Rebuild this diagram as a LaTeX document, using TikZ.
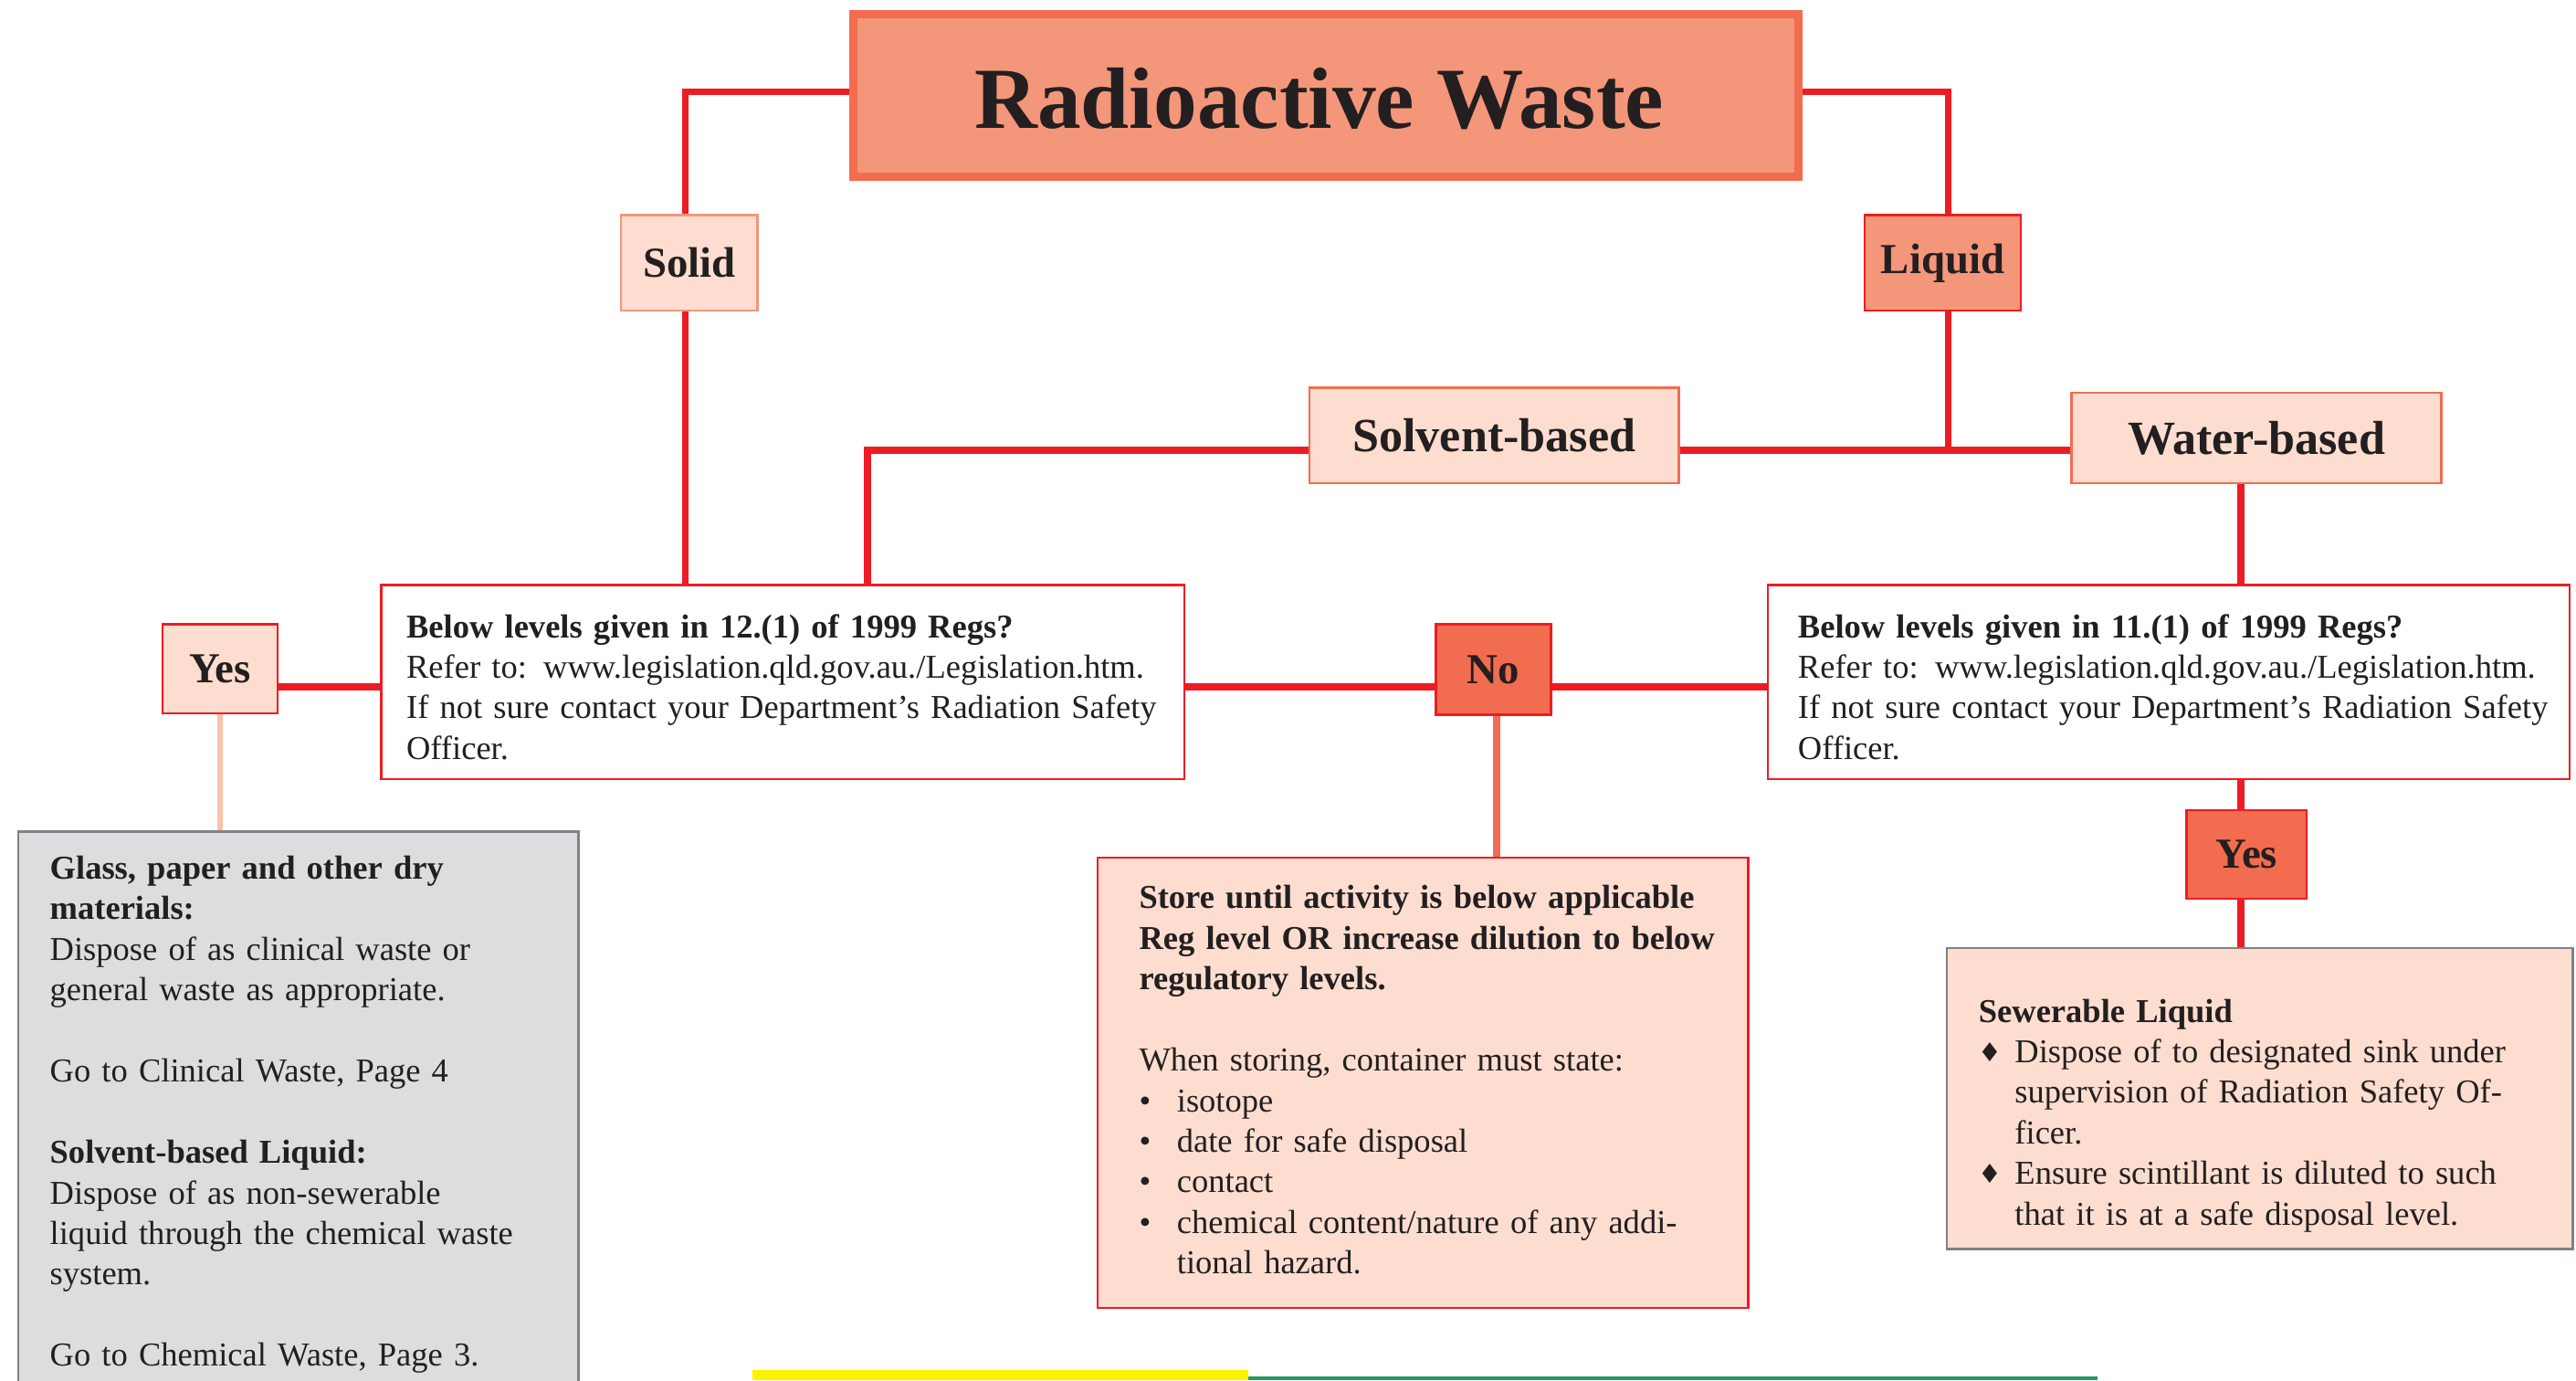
\documentclass[tikz,border=0pt]{standalone}
\usepackage{fontspec}
\setmainfont{Liberation Serif}
\newfontfamily\dvs{DejaVu Sans}
\definecolor{linered}{HTML}{ED1C24}
\definecolor{salmon}{HTML}{F4967A}
\definecolor{orangeA}{HTML}{F26C4F}
\definecolor{peach}{HTML}{FCDDD0}
\definecolor{greyfill}{HTML}{DCDDDE}
\definecolor{greyline}{HTML}{808285}
\definecolor{peachline}{HTML}{FBC1A9}
\definecolor{txt}{HTML}{231F20}
\definecolor{yellowbar}{HTML}{FFF200}
\definecolor{greenbar}{HTML}{1E9C5B}
\tikzset{
  conn/.style={draw=linered, line width=2pt},
  bx/.style={inner sep=0pt, line width=0.7pt, text=txt},
  lbl/.style={bx, font=\fontsize{13}{15}\selectfont\bfseries},
  lblb/.style={bx, font=\fontsize{14.5}{17}\selectfont\bfseries},
  body/.style={anchor=base west, inner sep=0pt, align=left, text=txt,
    font=\fontsize{10.15}{12.35}\selectfont},
}
\newcommand{\bul}{\makebox[11.5pt][l]{•}}
\newcommand{\dia}{\makebox[11pt][l]{\raisebox{0.3pt}{\dvs\fontsize{8}{8}\selectfont ♦}}}
\begin{document}
\begin{tikzpicture}[x=0.5pt,y=-0.5pt]
\clip (0,0) rectangle (1568,840);
\fill[white] (0,0) rectangle (1568,840);
% title
\node[bx, draw=orangeA, line width=2.5pt, fill=salmon, minimum width=287.5pt, minimum height=49.5pt] (title) at (807,58) {};
\node[inner sep=0pt, text=txt, font=\fontsize{26.5}{30}\selectfont\bfseries] (titletext) at (803,60) {Radioactive Waste};
% labels
\node[lbl, draw=salmon, fill=peach, minimum width=41.5pt, minimum height=29pt] (solid) at (419.5,160) {Solid};
\node[lbl, draw=linered, fill=salmon, minimum width=47.5pt, minimum height=29pt] (liquid) at (1182.5,160) {Liquid};
\node[lblb, draw=orangeA, fill=peach, minimum width=112.5pt, minimum height=29pt] (solvent) at (909.5,265) {Solvent-based};
\node[lblb, draw=orangeA, fill=peach, minimum width=112.5pt, minimum height=27.5pt] (water) at (1373.5,266.5) {Water-based};
% question boxes
\node[bx, draw=linered, fill=white, minimum width=244.5pt, minimum height=59pt] (leftq) at (476.5,415) {};
\node[bx, draw=linered, fill=white, minimum width=244pt, minimum height=59pt] (rightq) at (1320,415) {};
\node[body, text width=232pt] (leftqt) at (247,388) {\textbf{Below levels given in 12.(1) of 1999 Regs?}\\Refer to: www.legislation.qld.gov.au./Legislation.htm.\\If not sure contact your Department's Radiation Safety\\Officer.};
\node[body, text width=232pt] (rightqt) at (1094,388) {\textbf{Below levels given in 11.(1) of 1999 Regs?}\\Refer to: www.legislation.qld.gov.au./Legislation.htm.\\If not sure contact your Department's Radiation Safety\\Officer.};
% yes / no
\node[lbl, draw=linered, fill=peach, minimum width=35pt, minimum height=27pt] (yesl) at (134,407) {Yes};
\node[lbl, draw=linered, fill=orangeA, minimum width=35pt, minimum height=27.5pt] (no) at (909,407.5) {No};
\node[lbl, draw=linered, fill=orangeA, minimum width=36.5pt, minimum height=27pt] (yesr) at (1367.5,520) {Yes};
% outcome boxes
\node[bx, draw=greyline, fill=greyfill, minimum width=170.5pt, minimum height=172pt] (grey) at (181.5,678) {};
\node[body, text width=160pt] (greyt) at (30,535) {\textbf{Glass, paper and other dry}\\\textbf{materials:}\\Dispose of as clinical waste or\\general waste as appropriate.\\[12.35pt]Go to Clinical Waste, Page 4\\[12.35pt]\textbf{Solvent-based Liquid:}\\Dispose of as non-sewerable\\liquid through the chemical waste\\system.\\[12.35pt]Go to Chemical Waste, Page 3.};
\node[bx, draw=linered, fill=peach, minimum width=198pt, minimum height=137pt] (store) at (866,659) {};
\node[body, text width=185pt] (storet) at (693,553) {\textbf{Store until activity is below applicable}\\\textbf{Reg level OR increase dilution to below}\\\textbf{regulatory levels.}\\[12.35pt]When storing, container must state:\\\bul isotope\\\bul date for safe disposal\\\bul contact\\\bul chemical content/nature of any addi-\\\hspace*{11.5pt}tional hazard.};
\node[bx, draw=greyline, fill=peach, minimum width=190.5pt, minimum height=91.5pt] (sewer) at (1375.5,668.5) {};
\node[body, text width=180pt] (sewert) at (1204,622) {\textbf{Sewerable Liquid}\\\dia Dispose of to designated sink under\\\hspace*{11pt}supervision of Radiation Safety Of-\\\hspace*{11pt}ficer.\\\dia Ensure scintillant is diluted to such\\\hspace*{11pt}that it is at a safe disposal level.};
% connectors
\coordinate (j) at (1186,274);
\coordinate (sc) at (528,274);
\coordinate (wv) at (1364,300);
\coordinate (h) at (0,418);
\draw[conn] (title.west |- 0,56) -| (417,0 |- solid.north);
\draw[conn] (417,0 |- solid.south) -- (417,0 |- leftq.north);
\draw[conn] (title.east |- 0,56) -| (j |- liquid.north);
\draw[conn] (j |- liquid.south) -- (j);
\draw[conn] (solvent.west |- j) -- (sc) -- (sc |- leftq.north);
\draw[conn] (solvent.east |- j) -- (water.west |- j);
\draw[conn] (wv |- water.south) -- (wv |- rightq.north);
\draw[conn] (yesl.east |- h) -- (leftq.west |- h);
\draw[conn] (leftq.east |- h) -- (no.west |- h);
\draw[conn] (no.east |- h) -- (rightq.west |- h);
\draw[conn, draw=peachline, line width=1.6pt] (yesl.south) -- (yesl.south |- grey.north);
\draw[conn, draw=orangeA] (911,0 |- no.south) -- (911,0 |- store.north);
\draw[conn] (wv |- rightq.south) -- (wv |- yesr.north);
\draw[conn] (wv |- yesr.south) -- (wv |- sewer.north);
% bottom bars
\fill[fill=yellowbar] (458,834) rectangle (760,840);
\fill[fill=greenbar] (760,837.5) rectangle (1277,840);
\end{tikzpicture}
\end{document}
